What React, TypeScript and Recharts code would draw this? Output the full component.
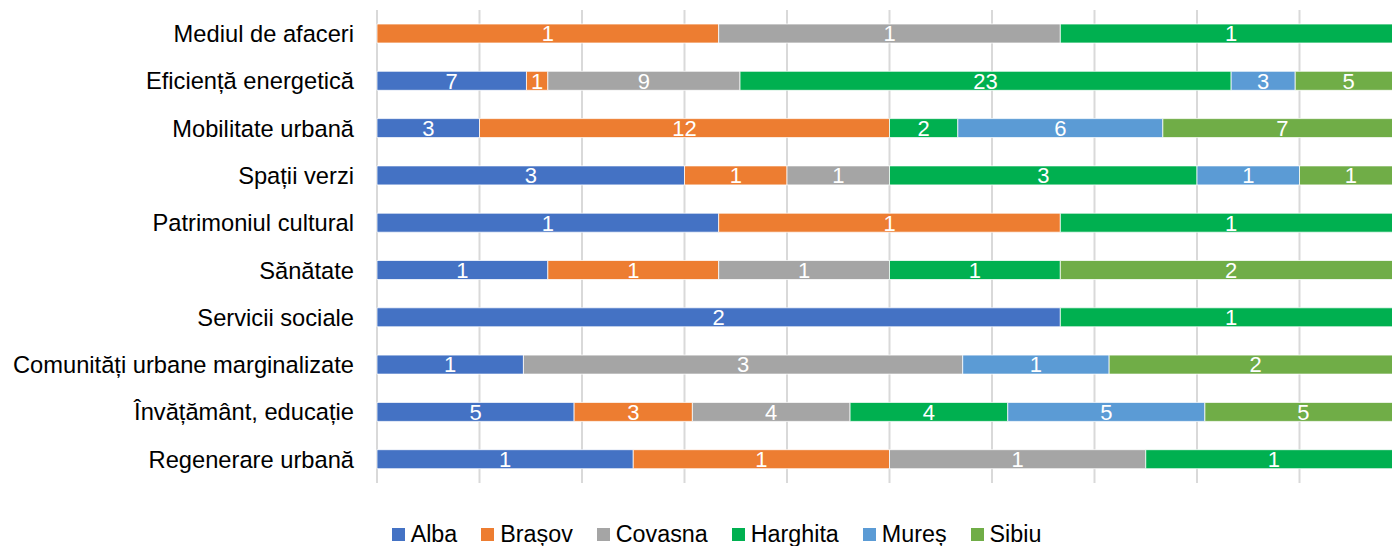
import React from 'react';
import { BarChart, Bar, XAxis, YAxis, CartesianGrid, Legend, LabelList } from 'recharts';

const categories = [
  'Mediul de afaceri',
  'Eficiență energetică',
  'Mobilitate urbană',
  'Spații verzi',
  'Patrimoniul cultural',
  'Sănătate',
  'Servicii sociale',
  'Comunități urbane marginalizate',
  'Învățământ, educație',
  'Regenerare urbană',
];

const alba = [0, 7, 3, 3, 1, 1, 2, 1, 5, 1];
const brasov = [1, 1, 12, 1, 1, 1, 0, 0, 3, 1];
const covasna = [1, 9, 0, 1, 0, 1, 0, 3, 4, 1];
const harghita = [1, 23, 2, 3, 1, 1, 1, 0, 4, 1];
const mures = [0, 3, 6, 1, 0, 0, 0, 1, 5, 0];
const sibiu = [0, 5, 7, 1, 0, 2, 0, 2, 5, 0];

const seriesNames = ['Alba', 'Brașov', 'Covasna', 'Harghita', 'Mureș', 'Sibiu'];
const seriesValues = [alba, brasov, covasna, harghita, mures, sibiu];
const seriesColors = ['#4472C4', '#ED7D31', '#A5A5A5', '#00B050', '#5B9BD5', '#70AD47'];

const xTicks = [0, 0.1, 0.2, 0.3, 0.4, 0.5, 0.6, 0.7, 0.8, 0.9, 1];

const data = categories.map((c, i) => {
  const row: Record<string, string | number> = { category: c };
  seriesNames.forEach((s, k) => {
    row[s] = seriesValues[k][i];
  });
  return row;
});

const FONT = 'Liberation Sans, Arial, sans-serif';

const renderLegend = () => (
  <div
    style={{
      display: 'flex',
      justifyContent: 'center',
      alignItems: 'center',
      height: 28,
      fontFamily: FONT,
      fontSize: 23.3,
      color: '#000',
      gap: 24,
    }}
  >
    {seriesNames.map((s, k) => (
      <div key={s} style={{ display: 'flex', alignItems: 'center' }}>
        <span
          style={{
            display: 'inline-block',
            width: 13,
            height: 13,
            background: seriesColors[k],
            marginRight: 6,
          }}
        />
        <span style={{ lineHeight: '28px' }}>{s}</span>
      </div>
    ))}
  </div>
);

export default function App() {
  return (
    <div
      style={{
        position: 'fixed',
        left: 0,
        top: 0,
        width: 1392,
        height: 546,
        overflow: 'hidden',
        background: '#fff',
      }}
    >
      <BarChart
        width={1402}
        height={546}
        data={data}
        layout="vertical"
        stackOffset="expand"
        barSize={19}
        margin={{ top: 10, right: 0, bottom: 35, left: 0 }}
      >
        <CartesianGrid horizontal={false} stroke="#D9D9D9" strokeWidth={2} />
        <XAxis type="number" domain={[0, 1]} ticks={xTicks} hide />
        <YAxis
          type="category"
          dataKey="category"
          width={377}
          axisLine={false}
          tickLine={false}
          tickSize={0}
          tickMargin={23}
          interval={0}
          tick={{ fill: '#000', fontSize: 23.7, fontFamily: FONT }}
        />
        <Legend
          content={renderLegend}
          wrapperStyle={{ left: 0, width: 1433, top: 520 }}
        />
        {seriesNames.map((s, k) => (
          <Bar
            key={s}
            dataKey={s}
            stackId="a"
            fill={seriesColors[k]}
            stroke="#ffffff"
            strokeWidth={0.75}
            isAnimationActive={false}
          >
            <LabelList
              dataKey={s}
              position="center"
              fill="#ffffff"
              style={{ fontSize: 22, fontFamily: FONT }}
              formatter={(v: any) => (v ? v : '')}
            />
          </Bar>
        ))}
      </BarChart>
    </div>
  );
}
